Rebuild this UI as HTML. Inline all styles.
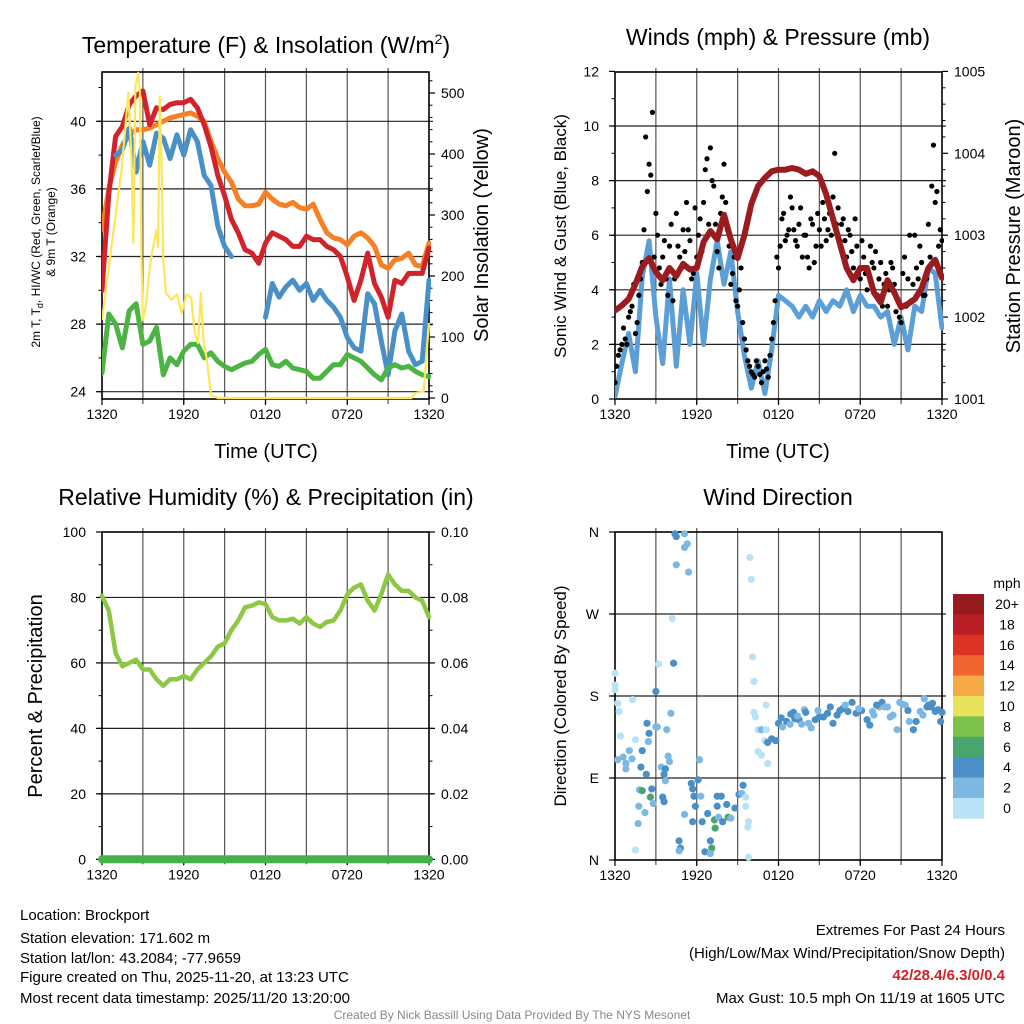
<!DOCTYPE html>
<html><head><meta charset="utf-8"><title>Brockport Meteogram</title>
<style>
html,body{margin:0;padding:0;background:#fff;}
svg{display:block;font-family:"Liberation Sans",Arial,sans-serif;}
</style></head>
<body>
<svg id="chart" width="1024" height="1024" viewBox="0 0 1024 1024" xmlns="http://www.w3.org/2000/svg">
<rect x="0" y="0" width="1024" height="1024" fill="#fff"/>
<text x="266" y="53" font-size="23" text-anchor="middle">Temperature (F) &amp; Insolation (W/m<tspan dy="-9" font-size="14">2</tspan><tspan dy="9">)</tspan></text>
<text x="778" y="45" font-size="23" text-anchor="middle">Winds (mph) &amp; Pressure (mb)</text>
<text x="266" y="505" font-size="23" text-anchor="middle">Relative Humidity (%) &amp; Precipitation (in)</text>
<text x="778" y="505" font-size="23" text-anchor="middle">Wind Direction</text>

<text transform="translate(40,232) rotate(-90)" font-size="12" text-anchor="middle">2m T, T<tspan dy="3" font-size="9">d</tspan><tspan dy="-3">, HI/WC (Red, Green, Scarlet/Blue)</tspan></text>
<text transform="translate(55,232) rotate(-90)" font-size="12" text-anchor="middle">&amp; 9m T (Orange)</text>
<text transform="translate(488,235) rotate(-90)" font-size="20" text-anchor="middle">Solar Insolation (Yellow)</text>
<text transform="translate(566,236) rotate(-90)" font-size="17" text-anchor="middle">Sonic Wind &amp; Gust (Blue, Black)</text>
<text transform="translate(1020,236) rotate(-90)" font-size="20" text-anchor="middle">Station Pressure (Maroon)</text>
<text transform="translate(42,696) rotate(-90)" font-size="20" text-anchor="middle">Percent &amp; Precipitation</text>
<text transform="translate(566,696) rotate(-90)" font-size="17" text-anchor="middle">Direction (Colored By Speed)</text>
<text x="266" y="458" font-size="20" text-anchor="middle">Time (UTC)</text>
<text x="778" y="458" font-size="20" text-anchor="middle">Time (UTC)</text>

<g font-size="15">
<text x="20" y="920">Location: Brockport</text>
<text x="20" y="943">Station elevation: 171.602 m</text>
<text x="20" y="963">Station lat/lon: 43.2084; -77.9659</text>
<text x="20" y="982">Figure created on Thu, 2025-11-20, at 13:23 UTC</text>
<text x="20" y="1003">Most recent data timestamp: 2025/11/20 13:20:00</text>
</g>
<g font-size="15" text-anchor="end">
<text x="1005" y="935">Extremes For Past 24 Hours</text>
<text x="1005" y="958">(High/Low/Max Wind/Precipitation/Snow Depth)</text>
<text x="1005" y="980" fill="#d62027" font-weight="bold">42/28.4/6.3/0/0.4</text>
<text x="1005" y="1003">Max Gust: 10.5 mph On 11/19 at 1605 UTC</text>
</g>
<text x="512" y="1019" font-size="12" fill="#888" text-anchor="middle">Created By Nick Bassill Using Data Provided By The NYS Mesonet</text>
<g id="layer"></g>
</svg>
<script>
// ---- data (half-hourly, hours since 1320 UTC) ----
var hours = [];
for (var i = 0; i <= 48; i++) hours.push(i / 2);
var xTickLabels = ["1320", "1920", "0120", "0720", "1320"];
var xTickHours = [0, 6, 12, 18, 24];
var tempRed = [30.0,35.7,39.1,39.7,41.0,41.5,41.8,39.8,40.8,40.7,41.0,41.1,41.1,41.3,40.8,39.8,38.5,36.8,35.6,34.2,33.4,32.4,32.2,31.6,32.8,33.4,33.2,33.0,32.6,32.6,33.2,33.0,33.0,32.6,32.4,32.0,30.8,29.4,30.6,32.2,30.4,29.6,28.4,30.6,30.4,31.0,31.0,31.0,32.5];
var tempOrange = [33.6,36.0,37.6,38.6,39.2,39.5,39.5,39.6,39.8,40.0,40.2,40.3,40.4,40.5,40.3,40.0,38.8,37.8,37.0,36.4,35.4,35.0,35.0,35.1,35.8,35.4,35.1,35.0,35.2,34.9,34.8,35.1,34.2,33.4,33.1,33.0,32.7,33.2,33.4,33.1,32.6,31.5,31.3,31.8,31.9,32.2,31.5,31.4,32.8];
var tempBlue = [null,null,38.0,38.3,39.6,37.0,38.8,37.4,39.3,39.0,37.8,39.2,38.0,39.5,38.8,36.8,36.2,33.8,32.6,32.0,null,null,null,null,28.4,30.4,29.6,30.2,30.6,30.0,30.4,29.4,30.0,29.4,29.0,28.4,27.2,26.6,26.4,29.8,29.2,27.0,25.0,27.6,28.6,26.4,25.6,25.8,30.6];
var dewGreen = [25.1,28.6,28.0,26.6,28.8,29.2,26.8,27.0,27.8,25.0,26.0,25.6,26.4,26.8,26.8,26.0,26.3,25.8,25.5,25.3,25.5,25.7,25.8,26.2,26.5,25.6,25.5,25.8,25.4,25.3,25.2,24.8,24.8,25.2,25.6,25.6,26.2,26.0,25.8,25.4,25.0,24.7,25.4,25.6,25.4,25.5,25.2,25.0,24.9];
var solarHours = [0,0.7,1.44,1.93,2.17,2.3,2.45,2.66,2.78,2.9,3.0,3.25,3.5,3.76,4.0,4.12,4.24,4.37,4.5,4.7,5.1,5.5,5.85,6.2,6.55,6.8,7.05,7.25,7.45,7.7,8.0,8.5,12,18,22.7,23.0,23.6,24];
var solarVals = [128,248,374,500,390,254,510,533,500,226,128,155,215,248,275,248,494,390,226,172,161,170,139,170,165,107,90,172,95,62,5,0,0,0,0,8,11,123];
var pressure = [1002.08,1002.14,1002.22,1002.4,1002.62,1002.72,1002.55,1002.45,1002.6,1002.5,1002.65,1002.58,1002.6,1002.92,1003.05,1002.95,1003.25,1002.95,1002.72,1003.0,1003.38,1003.6,1003.7,1003.78,1003.8,1003.8,1003.82,1003.8,1003.75,1003.78,1003.72,1003.5,1003.2,1002.9,1002.6,1002.45,1002.6,1002.6,1002.3,1002.18,1002.45,1002.3,1002.12,1002.16,1002.22,1002.35,1002.6,1002.7,1002.48];
var windSpeed = [0.1,1.3,2.4,1.0,4.5,5.8,3.0,1.3,4.4,1.2,4.0,2.0,4.6,2.0,4.4,5.8,4.2,5.4,3.2,1.6,0.4,1.4,0.2,1.8,3.8,3.6,3.4,3.0,3.4,3.0,3.6,3.2,3.6,3.4,4.0,3.2,3.8,3.4,3.4,3.0,3.2,2.0,3.0,1.8,3.4,3.2,4.8,4.6,2.6];
var gustA = [0.6,1.6,2.0,2.2,3.0,3.4,2.4,3.8,5.0,9.6,8.6,10.5,6.8,4.8,5.2,4.4,5.6,3.6,6.8,5.2,6.2,7.2,5.8,4.6,5.2,6.6,7.2,8.8,9.2,7.8,5.4,6.8,8.6,6.2,4.2,5.2,3.4,4.8,2.2,1.4,1.0,0.8,1.2,0.6,1.4,0.8,2.2,3.6,4.8,6.6,5.8,6.2,7.0,5.8,6.4,5.2,6.0,4.8,6.4,5.6,6.2,7.2,5.8,6.8,7.4,6.4,5.8,6.6,5.2,6.0,4.8,5.6,4.4,5.2,4.0,5.6,4.8,3.8,5.0,4.2,3.4,5.0,4.2,3.6,2.8,5.2,4.4,3.6,6.0,4.4,5.0,3.8,6.4,7.8,7.2,5.6,5.8];
var gustB = [1.2,1.8,2.6,2.0,3.2,4.2,2.8,4.4,6.2,7.6,8.2,5.2,6.0,4.2,5.8,3.8,6.4,4.4,5.6,4.8,5.4,6.2,4.4,7.0,6.0,5.4,8.4,6.4,8.0,6.4,4.8,7.4,7.2,5.6,4.6,3.6,4.0,2.8,1.8,1.2,0.9,1.4,0.9,1.0,1.1,1.6,2.8,5.2,5.6,6.8,6.0,7.4,6.2,5.6,7.0,6.0,5.2,6.6,5.0,6.8,5.6,6.6,6.2,6.0,9.0,7.0,6.4,5.8,6.2,5.4,6.6,4.6,5.8,4.6,4.6,5.0,5.4,4.4,3.4,4.6,4.0,4.8,3.2,3.0,4.6,3.4,6.0,4.2,4.8,5.6,3.8,4.4,5.2,9.3,7.6,6.2];
var rh = [80.5,76,63,59,60,61,58,58,55,53,55,55,56,55,58,60,62,65,66,70,73,77,77.5,78.5,78,74,73,73,73.5,72,74,72,71,72.5,73,76,81,83,84,79,76,81,87,84,82,82,80,79,74];
var precip = [0,0,0,0,0,0,0,0,0,0,0,0,0,0,0,0,0,0,0,0,0,0,0,0,0,0,0,0,0,0,0,0,0,0,0,0,0,0,0,0,0,0,0,0,0,0,0,0,0];
var dirHours = [0,0,0,0.2,0.3,1.3,0.4,0.2,0.6,0.8,0.8,1.05,1.25,1.5,2.0,1.9,2.3,2.35,2.5,2.45,3.0,3.1,3.0,3.8,4.1,4.2,3.2,4.3,4.4,4.5,5.1,5.3,5.1,4.5,5.4,1.8,2.0,2.6,2.7,1.75,2.2,1.7,2.8,3.5,3.6,3.6,3.4,3.7,3.9,4.0,3.7,1.5,4.7,4.8,4.7,5.1,5.6,5.7,5.8,5.9,5.7,6.2,6.1,6.3,6.4,6.6,6.8,7.0,7.1,7.0,7.3,7.35,7.5,7.8,7.5,7.6,7.9,8.3,8.2,8.5,8.8,9.1,9.4,9.3,9.6,9.6,9.8,9.75,9.8,9.9,10.0,10.1,10.2,10.2,10.3,11.1,10.5,10.75,11.0,11.2,11.1,10.5,10.75,11.2,11.5,11.8,12.0,12.3,12.6,12.85,13.1,13.2,13.5,13.7,13.9,14.2,14.4,14.7,15.0,15.3,15.6,16.0,16.3,16.5,16.7,17.1,17.4,17.7,18.1,18.5,18.7,18.9,19.0,19.4,19.6,19.8,20.2,20.4,20.7,20.9,21.3,21.5,21.9,22.1,21.6,22.4,22.6,22.7,23.0,23.2,23.5,24.0,23.9,23.7,12.2,12.9,13.4,14.0,14.9,15.8,16.9,17.9,19.2,20.0,21.1,22.9,23.3];
var dirDeg = [205,192,187,172,163,176,136,110,113,106,100,120,111,132,120,102,94,150,139,130,185,146,146,143,161,265,215,216,358,355,358,347,343,324,316,77,76,69,78,59,52,40,62,69,64,94,102,100,114,108,87,11,21,13,10,50,84,78,70,59,42,110,88,70,42,9,51,21,13,7,44,35,70,70,59,47,42,47,61,46,57,72,82,73,69,59,42,36,3,332,308,223,196,162,157,170,143,143,131,106,143,119,115,129,133,131,150,146,152,149,162,155,154,149,165,150,145,154,157,157,161,150,159,164,166,163,173,161,164,154,148,163,159,168,173,168,157,159,143,173,170,164,143,152,152,163,159,177,170,168,163,162,152,165,156,160,158,162,164,168,170,166,170,168,171,168,172];
var dirSpeed = [1,1,1,1,1,1,1,2,2,2,2,2,2,1,4,4,4,4,4,2,4,2,2,2,2,1,1,4,4,4,2,2,2,2,2,2,6,6,4,2,2,2,2,4,4,4,2,4,2,2,2,1,4,4,2,2,4,4,4,4,4,2,4,2,4,4,4,4,6,2,6,6,4,4,4,2,4,6,4,2,4,4,4,2,1,1,1,1,1,1,1,1,1,1,1,1,1,2,1,1,1,1,1,4,4,4,4,2,4,2,4,4,4,2,2,2,2,4,4,4,4,4,4,4,4,4,4,4,4,4,4,2,2,2,4,2,2,2,2,2,2,4,4,4,2,2,2,2,4,4,4,4,4,4,4,4,2,4,2,4,2,2,4,2,2,4,4];
var colorBins = ["0","2","4","6","8","10","12","14","16","18","20+"];
var binColors = ["#b9e2f7","#7db8e3","#4a8fc6","#48a56e","#7cc14a","#e8e25a","#f6a947","#f06430","#dd3326","#bb1f26","#951b1e"];

// ---- helpers ----
var NS = "http://www.w3.org/2000/svg";
var layer = document.getElementById("layer");
function mk(tag, attrs, parent) {
  var el = document.createElementNS(NS, tag);
  for (var k in attrs) el.setAttribute(k, attrs[k]);
  (parent || layer).appendChild(el);
  return el;
}
function txt(x, y, s, size, anchor, parent) {
  var t = mk("text", {x: x, y: y, "font-size": size, "text-anchor": anchor}, parent);
  t.textContent = s;
  return t;
}
function lin(d0, d1, r0, r1) { return function (v) { return r0 + (v - d0) * (r1 - r0) / (d1 - d0); }; }
function pathFrom(xs, ys, fx, fy) {
  var d = "", pen = false;
  for (var i = 0; i < xs.length; i++) {
    if (ys[i] === null) { pen = false; continue; }
    d += (pen ? "L" : "M") + fx(xs[i]).toFixed(1) + "," + fy(ys[i]).toFixed(1);
    pen = true;
  }
  return d;
}

function panelFrame(name, X0, X1, Y0, Y1, hGrid) {
  var g = mk("g", {});
  
  
  var fx = lin(0, 24, X0, X1);
  for (var h = 3; h < 24; h += 3) {
    var gl = mk("line", {x1: fx(h), x2: fx(h), y1: Y0 - 4, y2: Y1 + 5, stroke: "#555", "stroke-width": 1.2}, g);
    
    
  }
  hGrid.forEach(function (y) {
    var hl = mk("line", {x1: X0 - 4, x2: X1 + 4, y1: y, y2: y, stroke: "#222", "stroke-width": 1.2}, g);
    
    
  });
  var box = mk("rect", {x: X0, y: Y0, width: X1 - X0, height: Y1 - Y0, fill: "none", stroke: "#000", "stroke-width": 1.6}, g);
  
  
  for (var j = 0; j < xTickHours.length; j++) {
    var tk = mk("line", {x1: fx(xTickHours[j]), x2: fx(xTickHours[j]), y1: Y1, y2: Y1 + 6, stroke: "#000", "stroke-width": 1.2}, g);
    
    
    var lb = txt(fx(xTickHours[j]), Y1 + 20, xTickLabels[j], 14, "middle", g);
    
    
  }
  return g;
}
function yTicks(g, X, side, vals, labels, fy, minorVals) {
  var dir = side === "left" ? -1 : 1;
  var off = side === "left" ? 16 : 12;
  for (var i = 0; i < vals.length; i++) {
    var y = fy(vals[i]);
    var t = mk("line", {x1: X, x2: X + dir * 6, y1: y, y2: y, stroke: "#000", "stroke-width": 1.2}, g);
    
    
    var l = txt(X + dir * off, y + 5, labels[i], 14, side === "left" ? "end" : "start", g);
    
    
  }
  (minorVals || []).forEach(function (v) {
    var y = fy(v);
    var m = mk("line", {x1: X, x2: X + dir * 3.5, y1: y, y2: y, stroke: "#000", "stroke-width": 1}, g);
    
    
  });
}

// ---- Panel 1: temperature ----
(function () {
  var X0 = 102, X1 = 429, Y0 = 72, Y1 = 399;
  var fx = lin(0, 24, X0, X1);
  var fy = lin(24, 40, 391.7, 121.3);
  var fs = lin(0, 500, 398, 93);
  var tv = [24, 28, 32, 36, 40];
  var g = panelFrame("temp", X0, X1, Y0, Y1, tv.map(fy));
  yTicks(g, X0, "left", tv, tv.map(String), fy, [26, 30, 34, 38, 42]);
  var sv = [0, 100, 200, 300, 400, 500];
  yTicks(g, X1, "right", sv, sv.map(String), fs, [20, 40, 60, 80, 120, 140, 160, 180, 220, 240, 260, 280, 320, 340, 360, 380, 420, 440, 460, 480, 520]);
  var clip = mk("clipPath", {id: "c1"});
  mk("rect", {x: X0, y: Y0 - 2, width: X1 - X0 + 2, height: Y1 - Y0 + 4}, clip);
  var s = mk("g", {"clip-path": "url(#c1)"});
  var series = [
    [tempOrange, "#f58025", 5, "orange-9m-temperature-line"],
    [tempRed, "#d2232a", 5, "red-2m-temperature-line"],
    [tempBlue, "#4a90c8", 5, "blue-wind-chill-line"],
    [dewGreen, "#4cb443", 5, "green-dewpoint-line"]
  ];
  series.forEach(function (sr) {
    var p = mk("path", {d: pathFrom(hours, sr[0], fx, fy), fill: "none", stroke: sr[1], "stroke-width": sr[2], "stroke-linejoin": "round", "stroke-linecap": "round"}, s);
    
    
  });
  var ys = mk("path", {d: pathFrom(solarHours, solarVals, fx, fs), fill: "none", stroke: "#fde65a", "stroke-width": 2.2, "stroke-linejoin": "round"}, s);
  
  
})();

// ---- Panel 2: winds & pressure ----
(function () {
  var X0 = 615, X1 = 942, Y0 = 72, Y1 = 399;
  var fx = lin(0, 24, X0, X1);
  var fy = lin(0, 12, 399, 71.4);
  var fp = lin(1001, 1005, 399, 71.4);
  var wv = [0, 2, 4, 6, 8, 10, 12];
  var g = panelFrame("wind", X0, X1, Y0, Y1, [2, 4, 6, 8, 10].map(fy));
  yTicks(g, X0, "left", wv, wv.map(String), fy, [1, 3, 5, 7, 9, 11]);
  var pv = [1001, 1002, 1003, 1004, 1005];
  var pm = [];
  for (var k = 1001; k < 1005; k += 1) for (var m = 1; m < 5; m++) pm.push(k + m * 0.2);
  yTicks(g, X1, "right", pv, pv.map(String), fp, pm);
  var clip = mk("clipPath", {id: "c2"});
  mk("rect", {x: X0, y: Y0 - 2, width: X1 - X0 + 2, height: Y1 - Y0 + 4}, clip);
  var s = mk("g", {"clip-path": "url(#c2)"});
  var wl = mk("path", {d: pathFrom(hours, windSpeed, fx, fy), fill: "none", stroke: "#5b9fd6", "stroke-width": 5, "stroke-linejoin": "round", "stroke-linecap": "round"}, s);
  
  
  var dots = mk("g", {fill: "#000"}, s);
  
  
  gustA.forEach(function (v, i) {
    var c = mk("circle", {cx: fx(i * 0.25), cy: fy(v), r: 2.6}, dots);
    
    
  });
  gustB.forEach(function (v, i) {
    var c = mk("circle", {cx: fx(0.125 + i * 0.25), cy: fy(v), r: 2.6}, dots);
    
    
  });
  var pl = mk("path", {d: pathFrom(hours, pressure, fx, fp), fill: "none", stroke: "#9b1b1e", "stroke-width": 6, "stroke-linejoin": "round", "stroke-linecap": "round"}, s);
  
  
})();

// ---- Panel 3: RH & precip ----
(function () {
  var X0 = 102, X1 = 429, Y0 = 532, Y1 = 859.3;
  var fx = lin(0, 24, X0, X1);
  var fy = lin(0, 100, 859.3, 532);
  var fq = lin(0, 0.1, 859.3, 532);
  var rv = [0, 20, 40, 60, 80, 100];
  var g = panelFrame("rh", X0, X1, Y0, Y1, [20, 40, 60, 80].map(fy));
  yTicks(g, X0, "left", rv, rv.map(String), fy, [10, 30, 50, 70, 90]);
  var qv = [0, 0.02, 0.04, 0.06, 0.08, 0.1];
  yTicks(g, X1, "right", qv, qv.map(function (v) { return v.toFixed(2); }), fq, [0.01, 0.03, 0.05, 0.07, 0.09]);
  var pr = mk("path", {d: pathFrom(hours, precip, fx, fq), fill: "none", stroke: "#46b04a", "stroke-width": 8, "stroke-linecap": "round"});
  
  
  var rl = mk("path", {d: pathFrom(hours, rh, fx, fy), fill: "none", stroke: "#8cc843", "stroke-width": 4.5, "stroke-linejoin": "round", "stroke-linecap": "round"});
  
  
})();

// ---- Panel 4: wind direction ----
(function () {
  var X0 = 615, X1 = 942, Y0 = 532, Y1 = 860;
  var fx = lin(0, 24, X0, X1);
  var fy = lin(0, 360, 860, 532);
  var g = panelFrame("direction", X0, X1, Y0, Y1, [90, 180, 270].map(fy));
  yTicks(g, X0, "left", [0, 90, 180, 270, 360], ["N", "E", "S", "W", "N"], fy, []);
  var pts = mk("g", {});
  
  
  for (var i = 0; i < dirHours.length; i++) {
    var b = Math.min(10, Math.floor(dirSpeed[i] / 2));
    var c = mk("circle", {cx: fx(dirHours[i]), cy: fy(dirDeg[i]), r: 3.6, fill: binColors[b]}, pts);
    
    
  }
  var cb = mk("g", {});
  
  
  var top = 594, bh = 20.4;
  var u = txt(1007, 588, "mph", 14, "middle", cb);
  
  
  for (var k = 0; k < colorBins.length; k++) {
    var idx = colorBins.length - 1 - k;
    var r = mk("rect", {x: 953, y: top + k * bh, width: 31, height: bh + 0.3, fill: binColors[idx]}, cb);
    
    
    var l = txt(1007, top + k * bh + 15, colorBins[idx], 14, "middle", cb);
    
    
  }
})();
</script>
</body></html>
